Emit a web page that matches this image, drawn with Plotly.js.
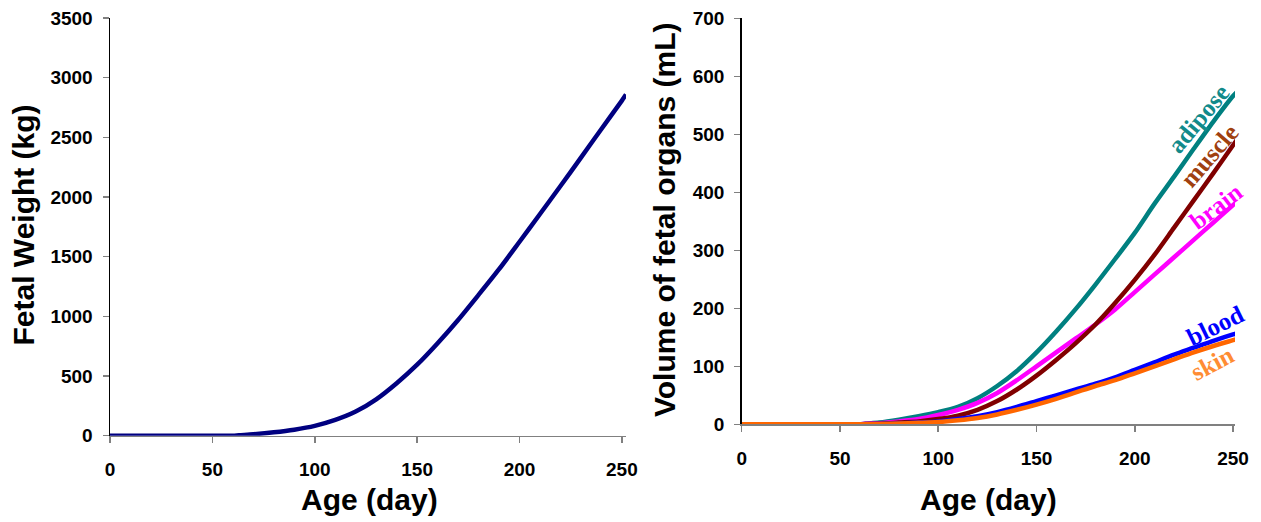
<!DOCTYPE html>
<html>
<head>
<meta charset="utf-8">
<script src="https://cdn.plot.ly/plotly-3.0.1.min.js"></script>
<style>html,body{margin:0;padding:0;background:#fff;}#chart{width:1261px;height:522px;}</style>
</head>
<body>
<div id="chart"></div>
<script>
// Age (day) sample points
const ages = [0,10,20,30,40,50,60,63,70,80,90,100,110,120,130,140,150,160,170,180,190,200,210,220,230,240,250,252];
// Left panel: fetal weight
const weight = [0,0,0,0,0,0,0,4,12,28,50,82,132,202,305,440,595,775,970,1180,1395,1625,1858,2092,2330,2570,2808,2858];
// Right panel: volume of fetal organs (mL)
const adipose = [0,0,0,0,0,0,0,1,3,8,14,21,30,45,66,92,124,160,199,241,285,330,380,427,475,522,566,573];
const brain   = [0,0,0,0,0,0,0,1,2,5,9,16,25,37,54,76,100,124,148,172,198,228,258,288,318,348,378,384];
const muscle  = [0,0,0,0,0,0,0,0.5,1,3,5,9,15,25,40,60,84,111,140,172,209,249,292,339,386,433,481,491];
const blood   = [0,0,0,0,0,0,0,0.3,0.7,1.5,3,5,9,14,21,30,40,50,60,70,81,94,107,120,132,144,155,157];
const skin    = [0,0,0,0,0,0,0,0.3,0.6,1.3,2.5,4,7,11,17,25,34,44,55,66,76,88,100,112,124,135,145,147];
const xTicks = [0,50,100,150,200,250];

const organNames  = ['adipose','brain','muscle','blood','skin'];
const organValues = [adipose, brain, muscle, blood, skin];
const organColors = ['#008080','#ff00ff','#800000','#0000ff','#ff6600'];
const labelColors = ['#118a8a','#ff00ff','#a0400f','#0000ff','#ff8c33'];
// label anchor (day, mL) and angle
const labelX = [232.5, 241.3, 238.1, 241, 239.3];
const labelY = [527.5, 375, 462.6, 171, 105];
const labelAngle = [-50, -37, -49, -26, -28];

const traces = [{
  x: ages, y: weight, type: 'scatter', mode: 'lines', xaxis: 'x', yaxis: 'y',
  line: {color: '#000080', width: 4.5, shape: 'spline', smoothing: 0.8}, cliponaxis: false, name: 'Fetal weight'
}];
organNames.forEach((n, i) => {
  traces.push({x: ages, y: organValues[i], type: 'scatter', mode: 'lines', xaxis: 'x2', yaxis: 'y2',
    line: {color: organColors[i], width: 4.5, shape: 'spline', smoothing: 0.8}, cliponaxis: false, name: n});
});

const W = 1261, H = 522;
const tickFont = {size: 19, weight: 'bold', color: '#000', family: '"Liberation Sans", Arial, sans-serif'};
function xax(dom, range, anchor) {
  return {domain: dom, range: range, tickvals: xTicks, anchor: anchor, showgrid: false, zeroline: false,
    showline: true, linecolor: '#808080', linewidth: 1.5, ticks: 'outside', ticklen: 6, tickcolor: '#808080',
    tickwidth: 1.5, tickfont: tickFont, ticklabelstandoff: 10, fixedrange: true};
}
function yax(dom, range, dtick, anchor) {
  return {domain: dom, range: range, dtick: dtick, anchor: anchor, showgrid: false, zeroline: false,
    showline: true, linecolor: '#000', linewidth: 1.5, ticks: 'outside', ticklen: 6, tickcolor: '#808080',
    tickwidth: 1.5, tickfont: tickFont, ticklabelstandoff: 6, fixedrange: true};
}

const annotations = [
  {xref: 'paper', yref: 'paper', x: 22.5 / W, y: 1 - 225 / H, text: '<b>Fetal Weight (kg)</b>', textangle: -90,
   showarrow: false, xanchor: 'center', yanchor: 'middle', font: {size: 30, color: '#000'}},
  {xref: 'paper', yref: 'paper', x: 369 / W, y: 1 - 499 / H, text: '<b>Age (day)</b>',
   showarrow: false, xanchor: 'center', yanchor: 'middle', font: {size: 30, color: '#000'}},
  {xref: 'paper', yref: 'paper', x: 664 / W, y: 1 - 220 / H, text: '<b>Volume of fetal organs (mL)</b>', textangle: -90,
   showarrow: false, xanchor: 'center', yanchor: 'middle', font: {size: 30, color: '#000'}},
  {xref: 'paper', yref: 'paper', x: 988 / W, y: 1 - 499 / H, text: '<b>Age (day)</b>',
   showarrow: false, xanchor: 'center', yanchor: 'middle', font: {size: 30, color: '#000'}}
];
organNames.forEach((n, i) => {
  annotations.push({xref: 'x2', yref: 'y2', x: labelX[i], y: labelY[i], text: '<b>' + n + '</b>',
    textangle: labelAngle[i], showarrow: false, xanchor: 'center', yanchor: 'middle',
    font: {size: 25, color: labelColors[i], family: '"Liberation Serif", "Times New Roman", serif'}});
});

const layout = {
  width: W, height: H, margin: {l: 0, r: 0, t: 0, b: 0}, showlegend: false,
  paper_bgcolor: '#fff', plot_bgcolor: '#fff',
  font: {family: '"Liberation Sans", Arial, sans-serif', color: '#000'},
  xaxis: xax([110 / W, 626 / W], [0, 252], 'y'),
  yaxis: yax([1 - 435.7 / H, 1 - 18 / H], [0, 3500], 500, 'x'),
  xaxis2: xax([741.7 / W, 1235 / W], [0, 251], 'y2'),
  yaxis2: yax([1 - 424.3 / H, 1 - 18.3 / H], [0, 700], 100, 'x2'),
  annotations: annotations
};

Plotly.newPlot('chart', traces, layout, {staticPlot: true, displayModeBar: false});
</script>
</body>
</html>
